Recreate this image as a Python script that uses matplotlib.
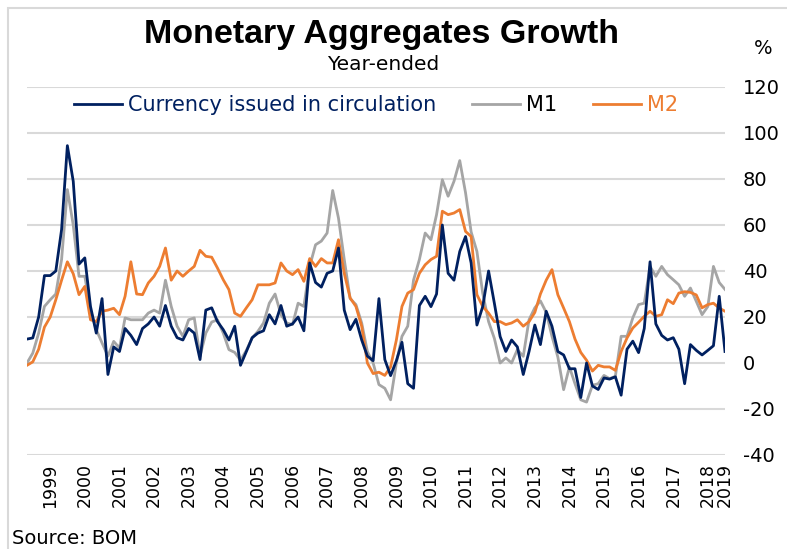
import numpy as np
import pandas as pd
import matplotlib
matplotlib.use("Agg")
import matplotlib.pyplot as plt
from matplotlib.patches import Rectangle

plt.rcParams['font.family'] = ['DejaVu Sans']
plt.rcParams['axes.unicode_minus'] = False

# year-ended growth, %, bi-monthly readings from mid 1998
currency = [10.4, 10.9, 20, 38, 38, 40, 58, 94.5, 79, 43, 45.7, 24.6, 13, 28, -5, 7, 5, 15, 12, 8,
            15, 17, 20, 16, 25, 16, 11, 10, 15, 13, 1.5, 23, 24, 18, 14.5, 10, 16, -1, 5, 11,
            13, 14, 21, 17, 25, 16, 17, 20, 14, 43.5, 35, 33, 39, 40, 50, 23, 14.5, 19, 10, 3,
            1, 28, 1.5, -5.5, 1, 9, -9, -11, 25, 29, 24.5, 30, 60, 39, 36, 48.5, 55, 43.5, 16.5, 24.5,
            40, 26, 11.5, 5, 10, 7, -5, 5, 16.5, 8, 22.5, 16, 5, 3.5, -2.5, -2.5, -15, 0, -10, -11.5,
            -6.5, -7, -6, -14, 6, 9.5, 4.5, 15, 44, 17, 12, 10, 11, 6, -9, 8, 5.5, 3.5, 5.5, 7.5,
            29, 5]
m1 = [0, 4.3, 13, 24.6, 27.5, 30, 45, 75.4, 60, 37.7, 37.7, 23, 14.5, 8.7, 3, 9.4, 6.5, 19.6, 18.8, 18.8,
      18.8, 21.7, 23, 21.7, 36, 24.6, 16, 11.6, 18.8, 19.6, 3, 13, 17.8, 18.8, 13, 5.8, 4.6, 1.2, 5.5, 10.9,
      13.8, 17.4, 26, 30, 21, 17.4, 16.7, 26, 24.6, 42, 51.4, 53, 56.5, 75, 63, 45, 28, 25.4, 17.4, 5,
      0, -9.4, -11, -16, 0, 11.6, 16, 36, 45, 56.5, 53.6, 64.5, 79.7, 72.5, 79, 88, 74, 57, 48.5, 30.4,
      18, 10.7, 0, 2.2, 0, 5.8, 2.9, 18.8, 24, 27, 22, 11.6, 2.6, -11.6, -1.7, -9, -16, -17, -9.7, -9,
      -5.4, -6.8, -5.8, 11.6, 11.6, 19.6, 25.4, 26, 42, 37.7, 42, 38.4, 36.2, 34, 29, 32.6, 26.8, 21, 24.6, 42,
      35, 32]
m2 = [-1, 0.5, 6, 15.6, 20, 27.5, 36, 44, 38.8, 29.7, 33.3, 18.8, 18, 22.5, 23, 23.8, 21, 29, 44, 30,
      29.7, 34.8, 37.7, 42, 50, 36, 40, 37.7, 40, 42, 49, 46.4, 46, 41.3, 36.2, 31.9, 21.7, 20.3, 24, 27.5,
      34, 34, 34, 34.8, 43.5, 40, 38.4, 40.6, 35.5, 45.4, 42, 45.4, 43.5, 43.5, 53.6, 39, 28.3, 24.6, 16, 0,
      -4.6, -4, -5.4, -1.7, 10, 24.6, 30.4, 31.9, 39, 42.7, 45, 46.4, 66, 64.5, 65.2, 66.7, 57.2, 55, 29.7, 24.6,
      21.7, 18, 18, 16.7, 17.4, 18.8, 16, 18, 22, 30, 36, 40.6, 29.7, 23.9, 18, 10.4, 4.6, 1.2, -3.5, -1,
      -1.7, -1.7, -3.2, 5, 10.9, 15.2, 17.7, 20.3, 22.5, 20.3, 21, 27.5, 25.8, 30.4, 31, 30.7, 29.6, 24, 25.4, 26,
      23.9, 22.5]
dates = pd.date_range('1998-05-01', periods=len(currency), freq='2MS')

year_labels = [str(y) for y in range(1999, 2020)]
year_ticks = [pd.Timestamp(f'{y}-01-01') for y in range(1999, 2019)] + [dates[-1]]

fig = plt.figure(figsize=(7.87, 5.49), dpi=100)
ax = fig.add_axes([27/787, 1-455/549, 698/787, 368/549])

l1, = ax.plot(dates, m1, color='#a5a5a5', lw=2, label='M1')
l2, = ax.plot(dates, m2, color='#ed7d31', lw=2, label='M2')
l0, = ax.plot(dates, currency, color='#002060', lw=2, label='Currency issued in circulation')

ax.set_ylim(-40, 120)
ax.set_yticks(range(-40, 121, 20))
ax.set_xlim(dates[0], dates[-1])
ax.yaxis.tick_right()
ax.tick_params(axis='y', length=0, pad=13, labelsize=14)
ax.set_xticks(year_ticks)
ax.set_xticklabels(year_labels, rotation=90)
ax.tick_params(axis='x', length=0, pad=6, labelsize=12.5)
ax.grid(axis='y', color='#d9d9d9', lw=1.5)
ax.set_axisbelow(True)
for s in ax.spines.values():
    s.set_visible(False)

leg = ax.legend(handles=[l0, l1, l2], loc='center', bbox_to_anchor=(0.5, 0.951),
                ncol=3, frameon=False, fontsize=15, handlelength=2.3, handletextpad=0.3,
                columnspacing=1.7, labelcolor=['#002060', 'black', '#ed7d31'])

fig.text(381/787, 1-34/549, 'Monetary Aggregates Growth', ha='center', va='center',
         fontsize=24.5, fontweight='bold', family='Liberation Sans')
fig.text(383/787, 1-65/549, 'Year-ended', ha='center', va='center', fontsize=14.5)
fig.text(763/787, 1-48/549, '%', ha='center', va='center', fontsize=14)
fig.text(12/787, 1-538/549, 'Source: BOM', ha='left', va='center', fontsize=14)

fig.patches.append(Rectangle((8/787, -0.1), 1.0, 1-8/549+0.1, transform=fig.transFigure,
                             fill=False, edgecolor='#d9d9d9', lw=1.5))

fig.savefig('out.png', dpi=100)
